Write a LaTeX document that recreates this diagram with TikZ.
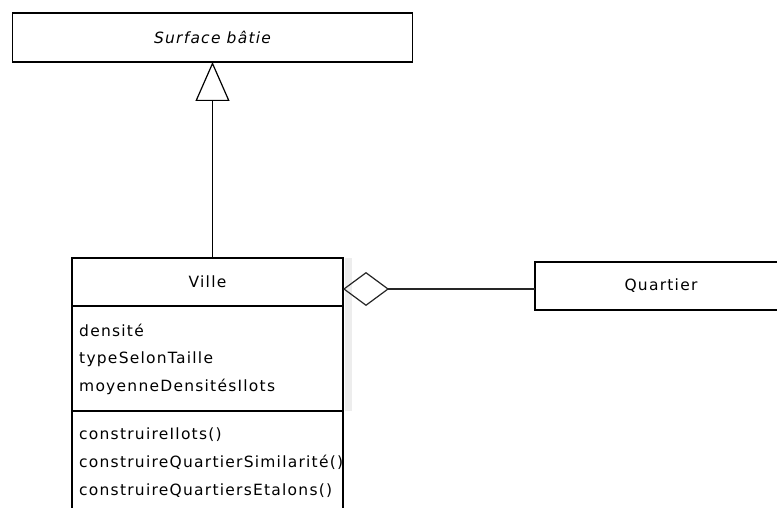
\documentclass[tikz,border=0pt]{standalone}
\usepackage{fontspec}
\newfontfamily\umlfont[LetterSpace=8]{DejaVu Sans}
\usetikzlibrary{arrows.meta}

\tikzset{
  umltext/.style={font=\umlfont\fontsize{15.5}{18}\selectfont},
  classbox/.style={draw=black, line width=1.3pt, fill=white, inner sep=0pt,
    outer sep=0pt, umltext},
  member/.style={anchor=base west, inner sep=0pt, umltext},
  generalization/.style={line width=1.3pt,
    -{Triangle[open, length=39pt, width=34pt, line width=1.2pt]}},
  aggregation/.style={line width=1.2pt, draw=black!85,
    {Diamond[open, length=46pt, width=34pt, line width=1.2pt]}-},
}

\begin{document}
\begin{tikzpicture}[x=1pt, y=-1pt]
  \clip (0,0) rectangle (777,508);
  \fill[white] (0,0) rectangle (777,508);

  % superclass
  \node[classbox, minimum width=400pt, minimum height=49pt] (surf)
    at (212.5,37.5) {\itshape Surface bâtie};

  % faint shadow along the right side of the class Ville
  \fill[black!7] (344.5,258) rectangle (352,411);

  % class Ville: name, attributes, operations
  \node[classbox, minimum width=271pt, minimum height=48pt] (villehead)
    at (207.5,282) {Ville};
  \node[classbox, minimum width=271pt, minimum height=105pt] (villeattr)
    at (207.5,358.5) {};
  \node[classbox, minimum width=271pt, minimum height=119pt] (villeops)
    at (207.5,470.5) {};

  \node[member] (a1) at (79,336) {densité};
  \node[member] (a2) at (79,363.5) {typeSelonTaille};
  \node[member] (a3) at (79,391) {moyenneDensitésIlots};
  \node[member] (o1) at (79,439) {construireIlots()};
  \node[member] (o2) at (79,467) {construireQuartierSimilarité()};
  \node[member] (o3) at (79,495) {construireQuartiersEtalons()};

  % class Quartier
  \node[classbox, minimum width=252pt, minimum height=48pt] (quartier)
    at (661,286) {Quartier};

  % inheritance
  \draw[generalization] (villehead.north -| surf.south) -- (surf.south);

  % aggregation
  \coordinate (agg) at ([yshift=-7pt]villehead.east);
  \draw[aggregation] (agg) -- (agg -| quartier.west);
\end{tikzpicture}
\end{document}
